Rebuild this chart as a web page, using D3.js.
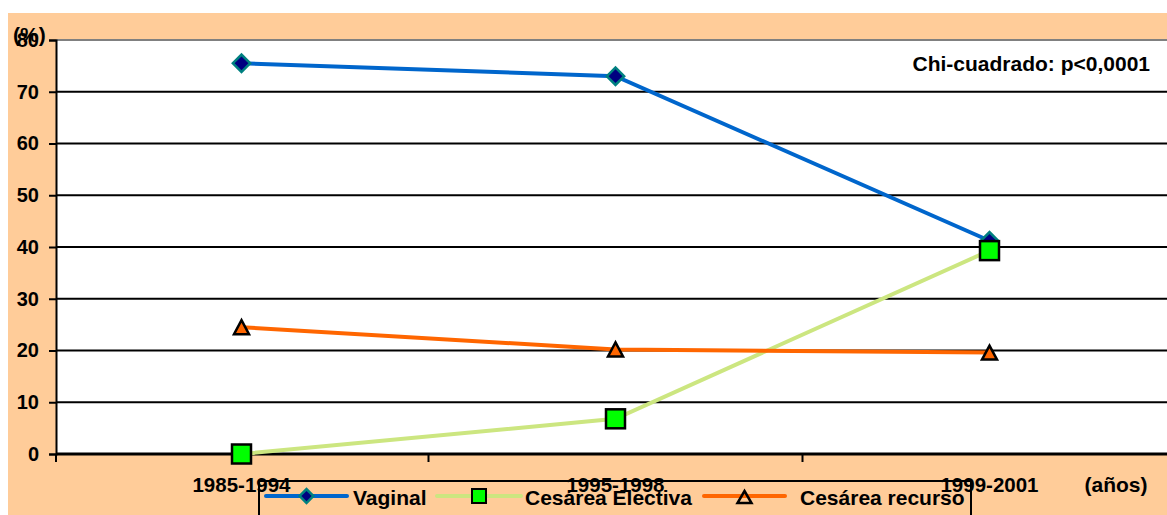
<!DOCTYPE html>
<html>
<head>
<meta charset="utf-8">
<script src="https://cdn.jsdelivr.net/npm/d3@7"></script>
<style>
body{margin:0;background:#fff;}
text{font-family:"Liberation Sans",Arial,sans-serif;font-weight:bold;fill:#000;}
</style>
</head>
<body>
<div id="chart"></div>
<script>
let categories=["1985-1994","1995-1998","1999-2001"];
let vaginal=[75.5,73,41.2];
let electiva=[0,6.8,39.3];
let recurso=[24.5,20.2,19.6];
let yTicks=[0,10,20,30,40,50,60,70,80];
let seriesNames=["Vaginal","Cesárea Electiva","Cesárea recurso"];

let width=1167, height=515;
let plotLeft=56, plotTop=40, plotBottom=454;

let svg=d3.select("#chart").append("svg")
.attr("width",width).attr("height",height);

// peach background
svg.append("rect").attr("x",8).attr("y",13).attr("width",width-8).attr("height",height-13).attr("fill","#FFCC99");
// plot area
svg.append("rect").attr("x",plotLeft).attr("y",plotTop).attr("width",width-plotLeft).attr("height",plotBottom-plotTop).attr("fill","#fff");

let x=d3.scaleBand().domain(categories).range([plotLeft-1.5,plotLeft-1.5+374*3]);
let y=d3.scaleLinear().domain([0,80]).range([plotBottom,plotTop]);
let cx=function(d,i){return x(categories[i])+x.bandwidth()/2;};

// grid
svg.selectAll(".grid").data(yTicks.filter(d=>d>0)).enter().append("line")
.attr("x1",plotLeft).attr("x2",width).attr("y1",d=>y(d)).attr("y2",d=>y(d))
.attr("stroke",d=>d==80?"#808080":"#000").attr("stroke-width",2);

// y axis
let yAxis=d3.axisLeft(y).tickValues(yTicks).tickSize(7).tickPadding(10);
let gy=svg.append("g").attr("transform","translate("+plotLeft+",0)").call(yAxis);
gy.select(".domain").attr("stroke","#000").attr("stroke-width",2);
gy.selectAll(".tick line").attr("stroke","#000").attr("stroke-width",2);
gy.selectAll(".tick text").style("font-size","20px").style("font-family","Liberation Sans, Arial").style("font-weight","bold").attr("fill","#000");

// x axis
svg.append("line").attr("x1",plotLeft).attr("x2",width).attr("y1",plotBottom).attr("y2",plotBottom).attr("stroke","#000").attr("stroke-width",3);
svg.selectAll(".xtick").data(categories).enter().append("line")
.attr("x1",(d,i)=>x(d)+(i==0?1.5:0)).attr("x2",(d,i)=>x(d)+(i==0?1.5:0))
.attr("y1",plotBottom).attr("y2",plotBottom+8).attr("stroke","#000").attr("stroke-width",2);

let line=d3.line().x(cx).y(d=>y(d));

// legend box
let lg=svg.append("g");
lg.append("rect").attr("x",259).attr("y",481).attr("width",712).attr("height",60)
.attr("fill","none").attr("stroke","#000").attr("stroke-width",2);

// lines
svg.append("path").datum(electiva).attr("d",line).attr("fill","none").attr("stroke","#CCE680").attr("stroke-width",4);
svg.append("path").datum(recurso).attr("d",line).attr("fill","none").attr("stroke","#FF6600").attr("stroke-width",4);
svg.append("path").datum(vaginal).attr("d",line).attr("fill","none").attr("stroke","#0066CC").attr("stroke-width",4);

function triPath(w,h){
 return "M0,"+(-h/2)+"L"+(w/2)+","+(h/2)+"L"+(-w/2)+","+(h/2)+"Z";
}

svg.selectAll(".mv").data(vaginal).enter().append("path")
.attr("d",d3.symbol().type(d3.symbolSquare).size(150))
.attr("transform",(d,i)=>"translate("+cx(d,i)+","+y(d)+") rotate(45)")
.attr("fill","#000080").attr("stroke","#008080").attr("stroke-width",2.5);
svg.selectAll(".me").data(electiva).enter().append("rect")
.attr("x",(d,i)=>cx(d,i)-9.5).attr("y",d=>y(d)-9.5).attr("width",19).attr("height",19)
.attr("fill","#00FF00").attr("stroke","#000").attr("stroke-width",2.5);
svg.selectAll(".mr").data(recurso).enter().append("path")
.attr("d",triPath(15,14))
.attr("transform",(d,i)=>"translate("+cx(d,i)+","+y(d)+")")
.attr("fill","#FF6600").attr("stroke","#000").attr("stroke-width",2.5).attr("stroke-linejoin","miter");

// category labels
svg.selectAll(".cat").data(categories).enter().append("text")
.attr("x",(d,i)=>cx(d,i)).attr("y",492).attr("text-anchor","middle")
.style("font-size","20.5px").text(d=>d);

svg.append("text").attr("x",1116).attr("y",492).attr("text-anchor","middle").style("font-size","21px").text("(años)");
svg.append("text").attr("x",13).attr("y",42).style("font-size","21px").text("(%)");
svg.append("text").attr("x",1150).attr("y",71).attr("text-anchor","end").style("font-size","21px").text("Chi-cuadrado: p<0,0001");

// legend entries
let ly=496;
let legendItems=[
 {x1:266,x2:347,tx:353,color:"#0066CC"},
 {x1:437,x2:521,tx:525,color:"#CCE680"},
 {x1:704,x2:785,tx:800,color:"#FF6600"}
];
legendItems.forEach(function(it,i){
 lg.append("line").attr("x1",it.x1).attr("x2",it.x2).attr("y1",ly).attr("y2",ly)
 .attr("stroke",it.color).attr("stroke-width",4).attr("stroke-linecap","round");
 let mx=(it.x1+it.x2)/2;
 if(i==0){
  lg.append("path").attr("d",d3.symbol().type(d3.symbolSquare).size(95))
  .attr("transform","translate("+mx+","+ly+") rotate(45)")
  .attr("fill","#000080").attr("stroke","#008080").attr("stroke-width",2.5);
 } else if(i==1){
  lg.append("rect").attr("x",mx-7).attr("y",ly-7).attr("width",14).attr("height",14)
  .attr("fill","#00FF00").attr("stroke","#000").attr("stroke-width",2);
 } else {
  lg.append("path").attr("d",triPath(14,12))
  .attr("transform","translate("+mx+","+(ly+1)+")")
  .attr("fill","none").attr("stroke","#000").attr("stroke-width",2.5);
 }
 lg.append("text").attr("x",it.tx).attr("y",505).style("font-size","21px").text(seriesNames[i]);
});
</script>
</body>
</html>
